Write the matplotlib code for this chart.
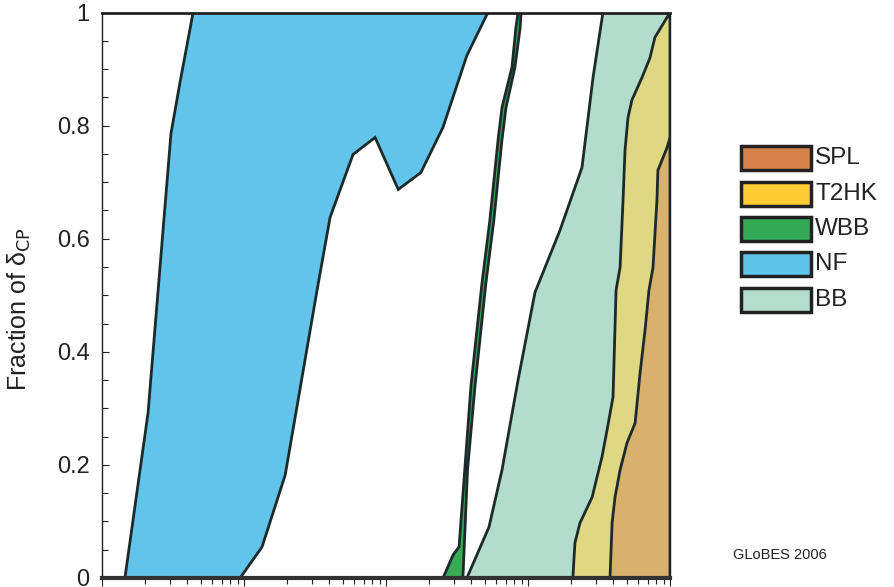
import matplotlib
matplotlib.use("Agg")
import matplotlib.pyplot as plt
from matplotlib.patches import Rectangle
from matplotlib.ticker import MultipleLocator, LogLocator, NullFormatter

plt.rcParams['font.family'] = ['Liberation Sans', 'DejaVu Sans']

# ---------------- data (x on log scale, y = fraction of delta_CP) ----------------
nf_x = [1.45e-4, 2.11e-4, 3.06e-4, 3.54e-4, 4.38e-4,
        0.0522, 0.0371, 0.0252, 0.0176, 0.0122, 0.00838, 0.00586, 0.00404, 0.00327, 0.00195, 0.00134, 9.38e-4]
nf_y = [0.0, 0.292, 0.786, 0.876, 1.0,
        1.0, 0.924, 0.797, 0.717, 0.687, 0.779, 0.749, 0.638, 0.509, 0.182, 0.055, 0.0]

wbb_x = [0.0252, 0.0297, 0.0327, 0.0397, 0.0474, 0.0539, 0.0615, 0.0656, 0.0771, 0.0822, 0.0851,
         0.0893, 0.0880, 0.0809, 0.0700, 0.0655, 0.0575, 0.0505, 0.0424, 0.0375, 0.0348]
wbb_y = [0.0, 0.041, 0.055, 0.341, 0.521, 0.633, 0.774, 0.832, 0.903, 0.973, 1.0,
         1.0, 0.973, 0.903, 0.832, 0.774, 0.633, 0.521, 0.341, 0.191, 0.0]

bb_x = [0.0371, 0.0531, 0.0656, 0.0851, 0.112, 0.168, 0.240, 0.287, 0.337, 1.0, 1.0]
bb_y = [0.0, 0.090, 0.191, 0.350, 0.505, 0.615, 0.726, 0.885, 1.0, 1.0, 0.0]

t2hk_x = [0.207, 0.214, 0.232, 0.283, 0.306, 0.332, 0.360, 0.397, 0.417, 0.445, 0.467, 0.482,
          0.506, 0.539, 0.635, 0.723, 0.783, 1.0, 1.0]
t2hk_y = [0.0, 0.062, 0.097, 0.143, 0.178, 0.214, 0.261, 0.320, 0.509, 0.549, 0.668, 0.756,
          0.814, 0.845, 0.885, 0.920, 0.956, 1.0, 0.0]

spl_x = [0.378, 0.391, 0.410, 0.445, 0.498, 0.568, 0.615, 0.667, 0.711, 0.759, 0.809, 0.822, 0.953, 1.0, 1.0]
spl_y = [0.0, 0.097, 0.143, 0.191, 0.239, 0.274, 0.362, 0.438, 0.509, 0.549, 0.668, 0.721, 0.761, 0.779, 0.0]

legend_labels = ["SPL", "T2HK", "WBB", "NF", "BB"]
legend_colors = ["#D4824A", "#FFCC33", "#33AA55", "#5EC4EA", "#B3DDCC"]
yticks = [0, 0.2, 0.4, 0.6, 0.8, 1]
ytick_labels = ["0", "0.2", "0.4", "0.6", "0.8", "1"]

# ---------------- figure ----------------
W, H = 894, 587
fig = plt.figure(figsize=(W / 100, H / 100), dpi=100)
ax = fig.add_axes([102 / W, (H - 578) / H, (670 - 102) / W, (578 - 12.5) / H])

edge = "#1C2A2A"
lw = 2.0
ax.fill(bb_x, bb_y, facecolor="#B2DCCC", edgecolor=edge, linewidth=lw, zorder=2)
ax.fill(t2hk_x, t2hk_y, facecolor="#E0D783", edgecolor=edge, linewidth=lw, zorder=3)
ax.fill(spl_x, spl_y, facecolor="#D8B16C", edgecolor=edge, linewidth=lw, zorder=4)
ax.fill(nf_x, nf_y, facecolor="#62C4EA", edgecolor=edge, linewidth=lw, zorder=2)
ax.fill(wbb_x, wbb_y, facecolor="#3BAA55", edgecolor=edge, linewidth=lw, zorder=2)
ax.axhline(0, color="#333333", linewidth=3, zorder=6, clip_on=False)

ax.set_xscale("log")
ax.set_xlim(1e-4, 1)
ax.set_ylim(0, 1)

ax.set_yticks(yticks)
ax.set_yticklabels(ytick_labels, fontsize=17, color="#222222")
ax.yaxis.set_minor_locator(MultipleLocator(0.05))
ax.tick_params(axis="y", which="both", direction="in", left=True, right=True, pad=9, colors="#222222")
ax.tick_params(axis="y", which="major", length=5, width=0.8)
ax.tick_params(axis="y", which="minor", length=4, width=0.8)

ax.xaxis.set_major_locator(LogLocator(base=10, numticks=10))
ax.xaxis.set_minor_locator(LogLocator(base=10, subs=range(2, 10), numticks=50))
ax.xaxis.set_major_formatter(NullFormatter())
ax.xaxis.set_minor_formatter(NullFormatter())
ax.tick_params(axis="x", which="both", direction="out", bottom=True, top=False, colors="#222222")
ax.tick_params(axis="x", which="major", length=6, width=0.8)
ax.tick_params(axis="x", which="minor", length=4, width=0.8)

for s in ax.spines.values():
    s.set_color("#222222")
    s.set_linewidth(1.0)
ax.spines["top"].set_linewidth(2.0)

ax.set_ylabel("Fraction of δ$_{\\mathrm{CP}}$", fontsize=18, color="#222222")
ax.yaxis.set_label_coords(-(102 - 33) / (670 - 102), 0.475)

# ---------------- legend (manual, pixel positions) ----------------
def px(x, y):
    return x / W, (H - y) / H

box_x0, box_x1 = 741, 811
row_top = 146.5
row_h = 24
pitch = 35.3
for i, (lab, col) in enumerate(zip(legend_labels, legend_colors)):
    top = row_top + i * pitch
    x0, y0 = px(box_x0, top + row_h)
    fig.add_artist(Rectangle((x0, y0), (box_x1 - box_x0) / W, row_h / H,
                             transform=fig.transFigure, facecolor=col,
                             edgecolor="#222222", linewidth=2.5))
    tx, ty = px(815, top + row_h / 2)
    fig.text(tx, ty, lab, fontsize=17.5, color="#222222", va="center", ha="left")

gx, gy = px(733, 555)
fig.text(gx, gy, "GLoBES 2006", fontsize=10.5, color="#222222", va="center", ha="left")

fig.savefig("out.png", dpi=100)
